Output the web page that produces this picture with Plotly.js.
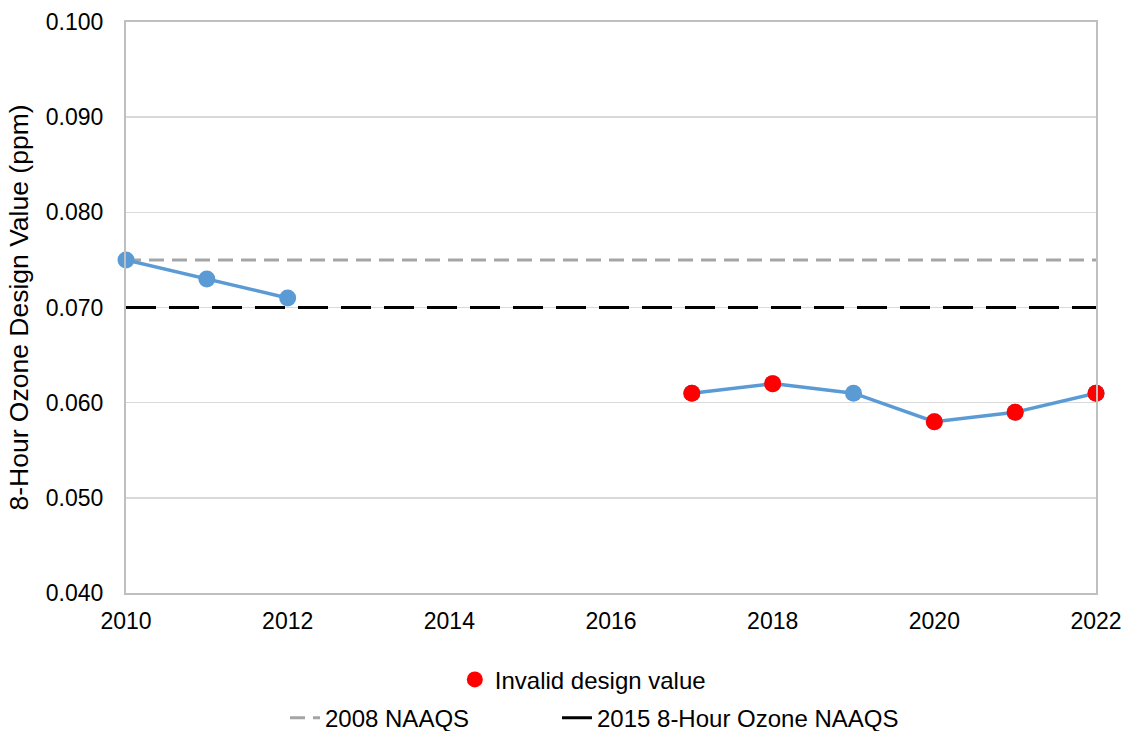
<!DOCTYPE html>
<html>
<head>
<meta charset="utf-8">
<script src="https://cdn.plot.ly/plotly-3.0.1.min.js"></script>
<style>html,body{margin:0;padding:0;background:#fff;}#chart{width:1123px;height:731px;}</style>
</head>
<body>
<div id="chart"></div>
<script>
const years = [2010, 2011, 2012, 2013, 2014, 2015, 2016, 2017, 2018, 2019, 2020, 2021, 2022];
const designValues = [0.075, 0.073, 0.071, null, null, null, null, 0.061, 0.062, 0.061, 0.058, 0.059, 0.061];
const invalidYears = [2017, 2018, 2020, 2021, 2022];
const invalidValues = [0.061, 0.062, 0.058, 0.059, 0.061];
const naaqs2008 = 0.075;
const naaqs2015 = 0.070;
const lineYears = [2010, 2022];

const FAM = 'Liberation Sans, Arial, sans-serif';
const f = (s) => ({family: FAM, size: s, color: '#000'});

const traces = [
  {x: lineYears, y: lineYears.map(() => naaqs2008), mode: 'lines', name: '2008 NAAQS',
   line: {color: '#a5a5a5', width: 3, dash: '15px,8px'}, legend: 'legend2', hoverinfo: 'skip'},
  {x: lineYears, y: lineYears.map(() => naaqs2015), mode: 'lines', name: '2015 8-Hour Ozone NAAQS',
   line: {color: '#000', width: 3, dash: '30px,13px'}, legend: 'legend3', hoverinfo: 'skip'},
  {x: years, y: designValues, mode: 'lines+markers', name: 'Design value', showlegend: false,
   line: {color: '#5b9bd5', width: 3.5}, marker: {color: '#5b9bd5', size: 17}, cliponaxis: false},
  {x: invalidYears, y: invalidValues, mode: 'markers', name: 'Invalid design value',
   marker: {color: '#ff0000', size: 17}, legend: 'legend', cliponaxis: false}
];

const layout = {
  width: 1123, height: 731,
  margin: {l: 126, r: 27, t: 22, b: 138, autoexpand: false},
  paper_bgcolor: '#fff', plot_bgcolor: '#fff',
  font: f(23),
  showlegend: true,
  xaxis: {range: [2010, 2022], dtick: 2, tick0: 2010, showgrid: false, zeroline: false,
    showline: true, linecolor: '#bfbfbf', linewidth: 2, mirror: true, ticks: '',
    tickfont: f(23), ticklabelstandoff: 6, automargin: false, fixedrange: true},
  yaxis: {range: [0.04, 0.1], dtick: 0.01, tick0: 0.04, tickformat: '.3f',
    showgrid: true, gridcolor: '#d9d9d9', gridwidth: 1.5, zeroline: false,
    showline: true, linecolor: '#bfbfbf', linewidth: 2, mirror: true, ticks: '',
    tickfont: f(23), ticklabelstandoff: 16, automargin: false,
    title: {text: '8-Hour Ozone Design Value (ppm)', font: f(26.5), standoff: 10}},
  legend: {orientation: 'h', x: 0.339, xanchor: 'left', y: -0.152, yanchor: 'middle',
    font: f(24), bgcolor: 'rgba(0,0,0,0)'},
  legend2: {orientation: 'h', x: 0.1639, xanchor: 'left', y: -0.219, yanchor: 'middle',
    font: f(24), bgcolor: 'rgba(0,0,0,0)'},
  legend3: {orientation: 'h', x: 0.4443, xanchor: 'left', y: -0.219, yanchor: 'middle',
    font: f(24), bgcolor: 'rgba(0,0,0,0)'}
};

Plotly.newPlot('chart', traces, layout, {displayModeBar: false, staticPlot: true});
</script>
</body>
</html>
